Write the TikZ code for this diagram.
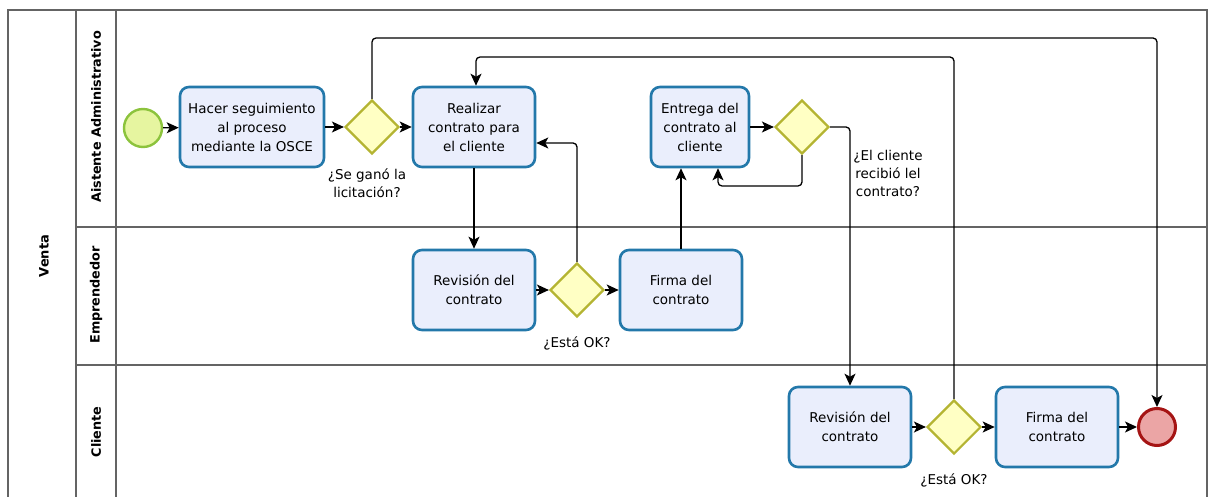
\documentclass[tikz,border=0pt]{standalone}
\usepackage{fontspec}
\setmainfont{DejaVu Sans}
\usetikzlibrary{arrows.meta,shapes.geometric,calc}
\definecolor{taskfill}{RGB}{234,238,252}
\definecolor{taskborder}{RGB}{35,120,170}
\definecolor{gwfill}{RGB}{255,255,196}
\definecolor{gwborder}{RGB}{180,180,50}
\definecolor{startfill}{RGB}{230,245,160}
\definecolor{startborder}{RGB}{140,195,60}
\definecolor{endfill}{RGB}{235,165,165}
\definecolor{endborder}{RGB}{165,20,20}
\definecolor{framecol}{RGB}{100,100,100}
\begin{document}
\begin{tikzpicture}[x=1pt,y=-1pt,
  task/.style={draw=taskborder, fill=taskfill, line width=2.6pt, rounded corners=9pt,
    minimum width=122pt, minimum height=80pt, align=center, inner sep=0pt,
    font=\fontsize{13.5}{19}\selectfont},
  gw/.style={diamond, draw=gwborder, fill=gwfill, line width=2.2pt, minimum width=54pt,
    minimum height=54pt, inner sep=0pt},
  flow/.style={-{Stealth[length=12pt,width=11pt,inset=3pt]}, line width=1.3pt, rounded corners=4pt},
  lbl/.style={font=\fontsize{13.5}{18}\selectfont, align=center, inner sep=0pt},
  lanelbl/.style={font=\bfseries\fontsize{12.8}{15}\selectfont, rotate=90, inner sep=0pt},
  framelines/.style={draw=framecol, line width=1.2pt}
]
\useasboundingbox (0,0) rectangle (1213,497);
\fill[white] (0,0) rectangle (1213,497);
\begin{scope}
\clip (0,0) rectangle (1213,497);
% pool and lanes
\draw[framelines] (8,510) -- (8,10) -- (1207,10) -- (1207,510);
\draw[framelines] (76,10) -- (76,510);
\draw[framelines] (116,10) -- (116,510);
\draw[framelines] (76,227) -- (1207,227);
\draw[framelines] (76,365) -- (1207,365);
\end{scope}
\node[lanelbl, font=\bfseries\fontsize{13}{15}\selectfont] (pool) at (44,256) {Venta};
\node[lanelbl] (lane1) at (96,117) {Aistente Administrativo};
\node[lanelbl] (lane2) at (96,295) {Emprendedor};
\node[lanelbl] (lane3) at (96,432) {Cliente};

% lane 1
\node[circle, draw=startborder, fill=startfill, line width=2.4pt, minimum size=38pt, inner sep=0pt] (start) at (143,128) {};
\node[task, minimum width=144pt] (t1) at (252,127) {Hacer seguimiento\\al proceso\\mediante la OSCE};
\node[gw] (g1) at (372,127) {};
\node[lbl] (g1l) at (367,183) {¿Se ganó la\\licitación?};
\node[task] (t2) at (474,127) {Realizar\\contrato para\\el cliente};
\node[task, minimum width=98pt] (e) at (700,127) {Entrega del\\contrato al\\cliente};
\node[gw] (g2) at (802,127) {};
\node[lbl] (g2l) at (888,173) {¿El cliente\\recibió lel\\contrato?};

% lane 2
\node[task] (r1) at (474,290) {Revisión del\\contrato};
\node[gw] (g3) at (577,290) {};
\node[lbl] (g3l) at (577,343) {¿Está OK?};
\node[task] (f1) at (681,290) {Firma del\\contrato};

% lane 3
\node[task] (r2) at (850,427) {Revisión del\\contrato};
\node[gw] (g4) at (954,427) {};
\node[lbl] (g4l) at (954,480) {¿Está OK?};
\node[task] (f2) at (1057,427) {Firma del\\contrato};
\node[circle, draw=endborder, fill=endfill, line width=3pt, minimum size=37pt, inner sep=0pt] (end) at (1157,427) {};

% connectors
\coordinate (c1) at (1157,38);
\coordinate (c2) at (718,186);
\coordinate (c3) at (476,57);
\draw[flow] (start) -- (t1);
\draw[flow] (t1) -- (g1);
\draw[flow] (g1) -- (t2);
\draw[flow] (g1.north) |- (c1) -- (end.north);
\draw[flow] (t2) -- (r1);
\draw[flow] (r1) -- (g3);
\draw[flow] (g3) -- (f1);
\draw[flow] (g3.north) |- ($(t2.east)+(0,16)$);
\draw[flow] (f1.north) -- (f1.north |- e.south);
\draw[flow] (e) -- (g2);
\draw[flow] (g2.south) |- (c2) -- (c2 |- e.south);
\draw[flow] (g2.east) -| (r2.north);
\draw[flow] (r2) -- (g4);
\draw[flow] (g4) -- (f2);
\draw[flow] (f2) -- (end);
\draw[flow] (g4.north) |- (c3) -- (c3 |- t2.north);
\end{tikzpicture}
\end{document}
